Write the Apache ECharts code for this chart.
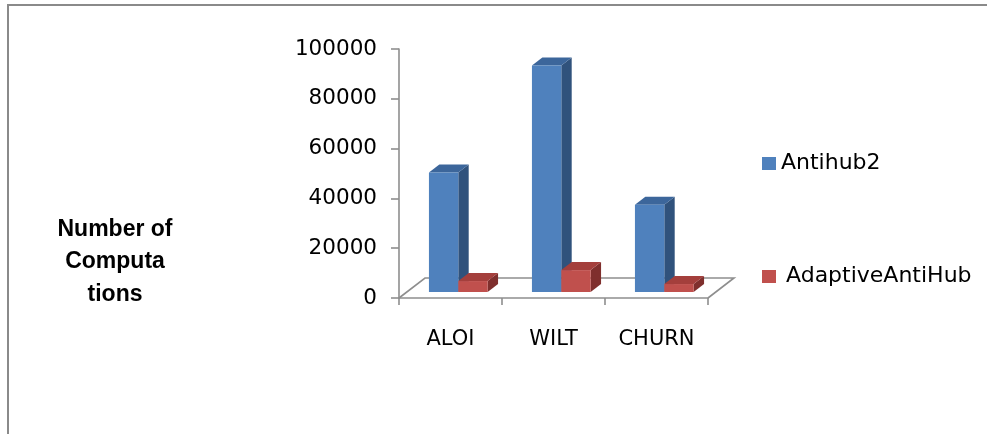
<!DOCTYPE html>
<html>
<head>
<meta charset="utf-8">
<script src="https://cdn.jsdelivr.net/npm/echarts/dist/echarts.min.js"></script>
<style>
  html, body { margin: 0; padding: 0; background: #ffffff; }
  #chart { width: 987px; height: 434px; }
</style>
</head>
<body>
<div id="chart"></div>
<script>
// Data
const categories = ['ALOI', 'WILT', 'CHURN'];
const antihub2 = [48000, 91000, 35000];
const adaptiveAntiHub = [4400, 8800, 3200];
const seriesNames = ['Antihub2', 'AdaptiveAntiHub'];
const yMin = 0;
const yMax = 100000;
const yStep = 20000;
const axisTitle = 'Number of\nComputa\ntions';

// 3D look: oblique depth vector of the floor, and where the bars sit in depth
const FLOOR_DX = 26;
const FLOOR_DY = -20;
const BAR_FRONT = 0.3;
const BAR_BACK = 0.7;
const BAR_WIDTH_RATIO = 0.285;

const palette = [
  { front: '#4f81bd', top: '#3c669b', side: '#30527c' },
  { front: '#c0504d', top: '#a43f3c', side: '#7f2f2d' }
];

const AXIS_GREY = '#8e8e8e';
const FONT = 'DejaVu Sans';

function barRenderer(slot, colors) {
  return function (params, api) {
    const cat = api.value(0);
    const val = api.value(1);
    const band = api.size([1, 0])[0];
    const w = band * BAR_WIDTH_RATIO;
    const base = api.coord([cat, 0]);
    const top = api.coord([cat, val]);
    const fx = FLOOR_DX * BAR_FRONT, fy = FLOOR_DY * BAR_FRONT;
    const dx = FLOOR_DX * (BAR_BACK - BAR_FRONT);
    const dy = FLOOR_DY * (BAR_BACK - BAR_FRONT);
    const x0 = base[0] - w + slot * w + fx;
    const x1 = x0 + w;
    const yb = base[1] + fy;
    const yt = top[1] + fy;
    return {
      type: 'group',
      children: [
        { type: 'polygon', shape: { points: [[x1, yb], [x1 + dx, yb + dy], [x1 + dx, yt + dy], [x1, yt]] },
          style: { fill: colors.side } },
        { type: 'polygon', shape: { points: [[x0, yt], [x1, yt], [x1 + dx, yt + dy], [x0 + dx, yt + dy]] },
          style: { fill: colors.top } },
        { type: 'rect', shape: { x: x0, y: yt, width: w, height: yb - yt },
          style: { fill: colors.front } }
      ]
    };
  };
}

function floorRenderer(params, api) {
  const band = api.size([1, 0])[0];
  const left = api.coord([0, 0]);
  const right = api.coord([categories.length - 1, 0]);
  const xl = left[0] - band / 2, xr = right[0] + band / 2, y = left[1];
  return {
    type: 'polyline',
    shape: { points: [[xl, y], [xl + FLOOR_DX, y + FLOOR_DY], [xr + FLOOR_DX, y + FLOOR_DY], [xr, y]] },
    style: { stroke: AXIS_GREY, lineWidth: 1.6, fill: null }
  };
}

const chart = echarts.init(document.getElementById('chart'), null, { renderer: 'canvas' });

const legendText = { fontFamily: FONT, fontSize: 22, color: '#000', lineHeight: 24 };

chart.setOption({
  animation: false,
  backgroundColor: '#ffffff',
  grid: { left: 399, right: 279, top: 49, bottom: 136 },
  xAxis: {
    type: 'category',
    data: categories,
    boundaryGap: true,
    axisLine: { show: true, lineStyle: { color: AXIS_GREY, width: 1.6 } },
    axisTick: { show: true, alignWithLabel: false, length: 7, lineStyle: { color: AXIS_GREY, width: 1.6 } },
    axisLabel: { margin: 31, fontFamily: FONT, fontSize: 21, color: '#000' },
    splitLine: { show: false }
  },
  yAxis: {
    type: 'value',
    min: yMin,
    max: yMax,
    interval: yStep,
    axisLine: { show: true, lineStyle: { color: AXIS_GREY, width: 1.6 } },
    axisTick: { show: true, length: 8, lineStyle: { color: AXIS_GREY, width: 1.6 } },
    axisLabel: { margin: 22, fontFamily: FONT, fontSize: 21.5, color: '#000',
                 formatter: (v) => String(v) },
    splitLine: { show: false }
  },
  legend: [
    { left: 757, top: 146.5, itemWidth: 14, itemHeight: 13, icon: 'rect',
      data: [{ name: seriesNames[0], itemStyle: { color: palette[0].front } }],
      textStyle: legendText, selectedMode: false },
    { left: 757, top: 259.5, itemWidth: 14, itemHeight: 13, icon: 'rect',
      data: [{ name: seriesNames[1], itemStyle: { color: palette[1].front } }],
      textStyle: Object.assign({}, legendText, { padding: [0, 0, 0, 5] }), selectedMode: false }
  ],
  graphic: [
    { type: 'rect', shape: { x: 8, y: 5, width: 1200, height: 800 },
      style: { fill: null, stroke: '#8a8a8a', lineWidth: 2 }, silent: true },
    { type: 'text', x: 115, y: 262,
      style: { text: axisTitle, fontFamily: 'Liberation Sans', fontWeight: 'bold', fontSize: 23,
               lineHeight: 32.5, fill: '#000', align: 'center', verticalAlign: 'middle' } }
  ],
  series: [
    { type: 'custom', name: 'floor', data: [[0, 0]], renderItem: floorRenderer, z: 1, silent: true },
    { type: 'custom', name: seriesNames[0], renderItem: barRenderer(0, palette[0]), z: 2,
      itemStyle: { color: palette[0].front },
      encode: { x: 0, y: 1 },
      data: categories.map((c, i) => [i, antihub2[i]]) },
    { type: 'custom', name: seriesNames[1], renderItem: barRenderer(1, palette[1]), z: 2,
      itemStyle: { color: palette[1].front },
      encode: { x: 0, y: 1 },
      data: categories.map((c, i) => [i, adaptiveAntiHub[i]]) }
  ]
});
</script>
</body>
</html>
